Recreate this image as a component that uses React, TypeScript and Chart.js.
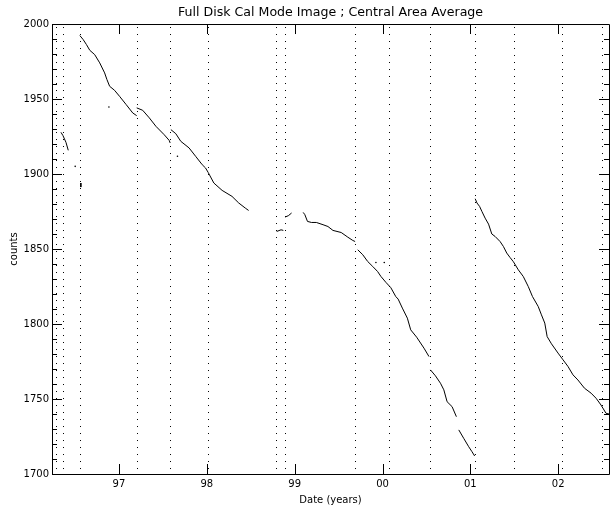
import React, { useEffect, useRef } from 'react';
import { Chart, registerables } from 'chart.js';

Chart.register(...registerables);

// ---- text ----
const chartTitle = 'Full Disk Cal Mode Image ; Central Area Average';
const xAxisTitle = 'Date (years)';
const yAxisTitle = 'counts';

// ---- axes ----
const xMin = 96.238;
const xMax = 102.578;
const xTickYears = [97, 98, 99, 100, 101, 102];
const xTickLabels = ['97', '98', '99', '00', '01', '02'];
const yMin = 1700;
const yMax = 2000;
const yMajorStep = 50;
const yMinorStep = 10;

// ---- vertical dotted event markers (years) ----
const eventYears = [96.28, 96.366, 96.554, 97.202, 97.583, 98.016, 98.784, 98.886, 99.688, 100.077, 100.536, 101.055, 101.496, 102.043, 102.495];

// ---- data segments (decimal year, counts) ----
const segAYears = [96.34, 96.363, 96.397, 96.423];
const segACounts = [1927.8, 1925.6, 1921.1, 1915.8];

const segDashYears = [96.566, 96.566];
const segDashCounts = [1894.0, 1891.3];

const segBYears = [96.555, 96.592, 96.63, 96.668, 96.724, 96.781, 96.837, 96.863, 96.894, 96.95, 97.007, 97.082, 97.157, 97.202];
const segBCounts = [1992.3, 1989.7, 1986.3, 1982.5, 1979.6, 1974.1, 1967.4, 1963.0, 1958.5, 1955.8, 1951.8, 1946.3, 1940.7, 1938.9];

const segCYears = [97.202, 97.27, 97.346, 97.421, 97.515, 97.572, 97.583];
const segCCounts = [1944.1, 1942.5, 1937.4, 1931.8, 1926.2, 1922.4, 1920.7];

const segDYears = [97.591, 97.647, 97.704, 97.798, 97.873, 97.948, 97.986, 98.016, 98.08, 98.174, 98.287, 98.363, 98.438, 98.476];
const segDCounts = [1929.6, 1926.9, 1921.8, 1917.4, 1911.8, 1906.2, 1904.0, 1901.0, 1894.0, 1889.1, 1885.1, 1880.7, 1877.3, 1875.7];

const segE1Years = [98.796, 98.845, 98.871];
const segE1Counts = [1861.7, 1862.8, 1862.4];

const segE2Years = [98.89, 98.928, 98.965];
const segE2Counts = [1871.3, 1872.2, 1874.0];

const segE3Years = [99.097, 99.116, 99.146, 99.191, 99.247, 99.323, 99.379, 99.436, 99.53, 99.605, 99.662, 99.688];
const segE3Counts = [1874.4, 1872.9, 1868.4, 1867.7, 1867.7, 1866.2, 1865.0, 1862.4, 1861.0, 1857.9, 1855.7, 1855.0];

const segE4Years = [99.718, 99.775, 99.831, 99.888, 99.944, 99.982, 100.038, 100.095, 100.151, 100.178, 100.226, 100.283, 100.321, 100.389, 100.472, 100.529];
const segE4Counts = [1849.5, 1846.2, 1841.7, 1838.4, 1835.0, 1831.7, 1827.8, 1824.2, 1818.3, 1816.6, 1810.6, 1803.9, 1796.1, 1791.2, 1783.9, 1778.3];

const segE5Years = [100.546, 100.603, 100.66, 100.698, 100.735, 100.792, 100.841];
const segE5Counts = [1769.4, 1765.4, 1760.5, 1756.1, 1748.2, 1744.9, 1738.2];

const segE6Years = [100.868, 100.924, 100.981, 101.018, 101.049];
const segE6Counts = [1729.4, 1723.8, 1718.2, 1714.9, 1712.0];

const segFYears = [101.055, 101.075, 101.105, 101.131, 101.168, 101.207, 101.244, 101.281, 101.338, 101.376, 101.414, 101.451, 101.49, 101.546, 101.602, 101.659, 101.707, 101.772, 101.809, 101.847, 101.874, 101.923, 101.998, 102.055, 102.111, 102.168, 102.224, 102.299, 102.374, 102.431, 102.487, 102.544, 102.578];
const segFCounts = [1883.5, 1880.7, 1878.4, 1875.1, 1870.6, 1866.6, 1860.0, 1858.4, 1855.0, 1851.7, 1847.3, 1844.4, 1841.5, 1836.1, 1831.7, 1825.0, 1818.3, 1811.7, 1806.1, 1800.6, 1791.6, 1786.8, 1780.6, 1776.1, 1771.7, 1766.1, 1762.7, 1757.2, 1753.9, 1750.5, 1746.0, 1740.5, 1740.0];

const outlierYears = [96.502, 96.886, 97.666, 99.925, 100.02];
const outlierCounts = [1905.1, 1944.7, 1911.8, 1841.0, 1841.0];

const segments: Array<[number[], number[]]> = [
  [segAYears, segACounts],
  [segDashYears, segDashCounts],
  [segBYears, segBCounts],
  [segCYears, segCCounts],
  [segDYears, segDCounts],
  [segE1Years, segE1Counts],
  [segE2Years, segE2Counts],
  [segE3Years, segE3Counts],
  [segE4Years, segE4Counts],
  [segE5Years, segE5Counts],
  [segE6Years, segE6Counts],
  [segFYears, segFCounts],
];

const FONT = '"DejaVu Sans", sans-serif';

const frameAndMarkers = {
  id: 'frameAndMarkers',
  beforeDatasetsDraw(chart: any) {
    const { ctx, chartArea } = chart;
    const xs = chart.scales.x;
    ctx.save();
    ctx.strokeStyle = '#000';
    ctx.lineWidth = 1;
    ctx.setLineDash([1, 6]);
    for (const e of eventYears) {
      const px = Math.round(xs.getPixelForValue(e)) + 0.5;
      ctx.beginPath();
      ctx.moveTo(px, chartArea.top + 3);
      ctx.lineTo(px, chartArea.bottom);
      ctx.stroke();
    }
    ctx.restore();
  },
  afterDraw(chart: any) {
    const { ctx, chartArea } = chart;
    const { left, right, top, bottom } = chartArea;
    const xs = chart.scales.x;
    const ys = chart.scales.y;
    ctx.save();
    ctx.strokeStyle = '#000';
    ctx.lineWidth = 1;
    ctx.setLineDash([]);
    ctx.beginPath();
    ctx.moveTo(left + 0.5, top + 0.5);
    ctx.lineTo(right + 0.5, top + 0.5);
    ctx.lineTo(right + 0.5, bottom + 0.5);
    ctx.lineTo(left + 0.5, bottom + 0.5);
    ctx.closePath();
    ctx.stroke();
    ctx.beginPath();
    for (let v = yMin; v <= yMax; v += yMinorStep) {
      const py = Math.round(ys.getPixelForValue(v)) + 0.5;
      const len = v % yMajorStep === 0 ? 10 : 5;
      ctx.moveTo(left, py);
      ctx.lineTo(left + len, py);
      ctx.moveTo(right, py);
      ctx.lineTo(right - len, py);
    }
    for (const t of xTickYears) {
      const px = Math.round(xs.getPixelForValue(t)) + 0.5;
      ctx.moveTo(px, bottom);
      ctx.lineTo(px, bottom - 10);
      ctx.moveTo(px, top);
      ctx.lineTo(px, top + 10);
    }
    ctx.stroke();
    ctx.restore();
  },
};

export default function App() {
  const ref = useRef<HTMLCanvasElement | null>(null);

  useEffect(() => {
    document.body.style.margin = '0';
    const lineData: any[] = [];
    segments.forEach(([xsArr, ysArr], i) => {
      if (i > 0) lineData.push({ x: xsArr[0], y: null });
      xsArr.forEach((xv, k) => lineData.push({ x: xv, y: ysArr[k] }));
    });
    const outlierData = outlierYears.map((xv, k) => ({ x: xv, y: outlierCounts[k] }));

    const chart = new Chart(ref.current as HTMLCanvasElement, {
      type: 'scatter',
      data: {
        datasets: [
          {
            data: lineData,
            showLine: true,
            spanGaps: false,
            borderColor: '#000',
            borderWidth: 1,
            pointRadius: 0,
            backgroundColor: '#000',
          } as any,
          {
            data: outlierData,
            showLine: false,
            pointRadius: 0.8,
            pointBorderWidth: 0,
            backgroundColor: '#000',
            borderColor: '#000',
          } as any,
        ],
      },
      options: {
        responsive: false,
        animation: false,
        devicePixelRatio: 1,
        layout: { padding: { left: 0, right: 0, top: 0, bottom: 0 } },
        plugins: {
          legend: { display: false },
          tooltip: { enabled: false },
          title: {
            display: true,
            text: chartTitle,
            color: '#000',
            fullSize: false,
            font: { family: FONT, size: 12.6, weight: 'normal', lineHeight: 1.2 },
            padding: { top: 5, bottom: 3.9 },
          },
        },
        scales: {
          x: {
            type: 'linear',
            min: xMin,
            max: xMax,
            grid: { display: false, drawTicks: false },
            border: { display: false },
            afterBuildTicks: (scale: any) => {
              scale.ticks = xTickYears.map((v) => ({ value: v }));
            },
            afterFit: (scale: any) => {
              scale.height = 36;
            },
            ticks: {
              color: '#000',
              padding: 4,
              maxRotation: 0,
              autoSkip: false,
              font: { family: FONT, size: 10 },
              callback: (v: any) => {
                const i = xTickYears.indexOf(Number(v));
                return i >= 0 ? xTickLabels[i] : '';
              },
            },
            title: {
              display: true,
              text: xAxisTitle,
              color: '#000',
              font: { family: FONT, size: 10 },
              padding: { top: 0, bottom: 4 },
            },
          },
          y: {
            type: 'linear',
            min: yMin,
            max: yMax,
            grid: { display: false, drawTicks: false },
            border: { display: false },
            afterFit: (scale: any) => {
              scale.width = 52;
            },
            ticks: {
              stepSize: yMajorStep,
              color: '#000',
              padding: 3,
              font: { family: FONT, size: 10 },
              callback: (v: any) => String(v),
            },
            title: {
              display: true,
              text: yAxisTitle,
              color: '#000',
              font: { family: FONT, size: 10 },
              padding: { top: 8, bottom: 0 },
            },
          },
        },
      },
      plugins: [frameAndMarkers],
    });
    return () => chart.destroy();
  }, []);

  return (
    <div style={{ position: 'fixed', left: 0, top: 0, width: 613, height: 510, overflow: 'hidden', background: '#fff' }}>
      <canvas ref={ref} width={613} height={510} style={{ width: 613, height: 510, display: 'block' }} />
    </div>
  );
}
